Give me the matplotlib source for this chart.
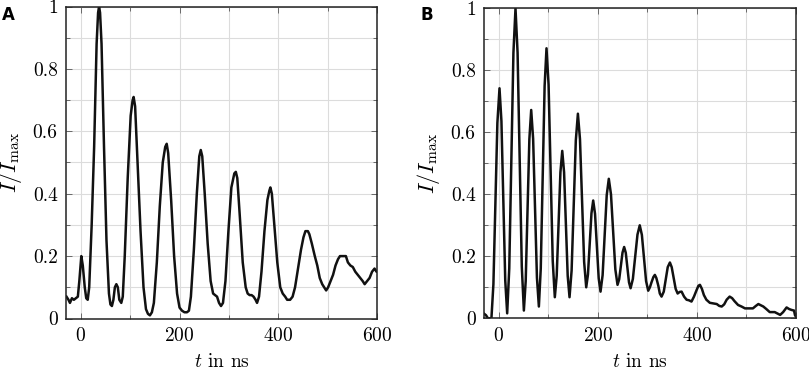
import matplotlib
matplotlib.use("Agg")
import matplotlib.pyplot as plt
from matplotlib.ticker import MultipleLocator

plt.rcParams['font.family'] = 'serif'
plt.rcParams['font.serif'] = ['cmr10']
plt.rcParams['mathtext.fontset'] = 'cm'
plt.rcParams['axes.formatter.use_mathtext'] = True

# Panel A data (t in ns, I/Imax)
t_a = [-29, -25, -22, -18, -14, -10, -6, -3, 1, 4, 8, 11, 14, 17, 22, 27, 32, 35, 37, 39,
       42, 47, 52, 57, 60, 63, 66, 69, 72, 75, 78, 82, 85, 89, 95, 101, 105, 107, 110, 115,
       121, 127, 132, 136, 140, 144, 148, 154, 160, 166, 171, 174, 177, 183, 189, 195, 200,
       205, 210, 215, 219, 223, 229, 235, 240, 243, 246, 251, 257, 263, 268, 272, 276, 280,
       284, 288, 293, 299, 305, 311, 314, 317, 322, 328, 334, 338, 342, 346, 350, 354, 357,
       361, 366, 372, 378, 382, 384, 387, 392, 398, 404, 409, 414, 418, 424, 429, 434, 440,
       446, 451, 455, 460, 463, 468, 474, 479, 484, 489, 493, 497, 501, 506, 511, 516, 521,
       525, 531, 537, 541, 546, 551, 556, 561, 566, 571, 575, 580, 585, 590, 595, 599, 600]
i_a = [0.07, 0.06, 0.05, 0.065, 0.06, 0.065, 0.07, 0.12, 0.20, 0.17, 0.10, 0.065, 0.06, 0.10,
       0.30, 0.55, 0.88, 0.98, 1.00, 0.98, 0.88, 0.55, 0.25, 0.08, 0.045, 0.04, 0.06, 0.10,
       0.11, 0.10, 0.06, 0.05, 0.07, 0.20, 0.45, 0.65, 0.70, 0.71, 0.68, 0.50, 0.28, 0.10,
       0.03, 0.015, 0.01, 0.02, 0.05, 0.18, 0.36, 0.50, 0.55, 0.56, 0.53, 0.38, 0.20, 0.08,
       0.035, 0.025, 0.02, 0.02, 0.025, 0.07, 0.22, 0.40, 0.52, 0.54, 0.52, 0.40, 0.24, 0.12,
       0.08, 0.075, 0.07, 0.05, 0.04, 0.05, 0.12, 0.28, 0.42, 0.465, 0.47, 0.45, 0.33, 0.18,
       0.10, 0.08, 0.075, 0.075, 0.07, 0.06, 0.05, 0.07, 0.15, 0.28, 0.38, 0.41, 0.42, 0.40,
       0.30, 0.18, 0.10, 0.08, 0.07, 0.06, 0.06, 0.07, 0.10, 0.16, 0.22, 0.26, 0.28, 0.28,
       0.27, 0.24, 0.20, 0.17, 0.13, 0.11, 0.10, 0.09, 0.10, 0.12, 0.14, 0.17, 0.19, 0.20,
       0.20, 0.20, 0.18, 0.17, 0.165, 0.15, 0.14, 0.13, 0.12, 0.11, 0.12, 0.13, 0.15, 0.16,
       0.15, 0.15]

# Panel B data
t_b = [-30, -26, -22, -17, -15, -11, -7, -3, 1.3, 5.2, 9.0, 12.9, 16.8, 21.0, 25.2, 29.4, 33.6,
       37.8, 42.0, 46.3, 50.5, 54.2, 57.9, 61.6, 65.3, 69.2, 73.0, 76.9, 80.8, 84.6, 88.5,
       92.4, 96.2, 100.4, 104.6, 108.8, 113, 116.8, 120.5, 124.3, 128, 131.7, 135.4, 139.0,
       142.7, 146.9, 151.2, 155.4, 159.6, 163.8, 168, 172.2, 176.4, 179.9, 183.5, 187, 190.5,
       194.2, 197.9, 201.6, 205.3, 209.5, 213.7, 217.8, 222, 226.4, 230.8, 235.2, 239.6, 243,
       246.3, 249.7, 253, 256.3, 259.5, 262.8, 266, 270.6, 275.3, 279.9, 284.5, 288.8, 293,
       297.3, 301.6, 305, 308, 312, 315, 318, 322, 325, 328.5, 333, 337, 341, 345.4, 349, 353,
       357, 361, 365, 369, 374, 379, 384, 389, 394, 399, 403, 406, 410, 414, 419, 426, 433,
       440, 445, 450, 455, 460, 466, 471, 476, 483, 490, 497, 505, 513, 519, 524, 529, 534,
       540, 547, 557, 563, 568, 574, 581, 586, 591, 596, 598, 600]
i_b = [0.015, 0.01, 0.0, 0.0, 0.0, 0.11, 0.37, 0.63, 0.742, 0.636, 0.379, 0.122, 0.016, 0.161,
       0.508, 0.856, 1.0, 0.857, 0.51, 0.167, 0.025, 0.12, 0.35, 0.578, 0.672, 0.579, 0.355,
       0.131, 0.038, 0.16, 0.455, 0.749, 0.871, 0.754, 0.47, 0.185, 0.068, 0.137, 0.304,
       0.471, 0.54, 0.471, 0.304, 0.137, 0.068, 0.154, 0.364, 0.574, 0.66, 0.578, 0.38, 0.182,
       0.10, 0.141, 0.24, 0.339, 0.38, 0.337, 0.233, 0.129, 0.086, 0.139, 0.268, 0.397, 0.45,
       0.40, 0.279, 0.158, 0.108, 0.126, 0.169, 0.212, 0.23, 0.211, 0.164, 0.116, 0.097,
       0.127, 0.199, 0.27, 0.30, 0.269, 0.195, 0.12, 0.089, 0.10, 0.115, 0.133, 0.14, 0.13,
       0.105, 0.08, 0.07, 0.086, 0.125, 0.165, 0.18, 0.165, 0.13, 0.095, 0.08, 0.085, 0.086,
       0.07, 0.06, 0.058, 0.054, 0.07, 0.09, 0.105, 0.108, 0.095, 0.075, 0.06, 0.05, 0.048,
       0.046, 0.04, 0.038, 0.045, 0.06, 0.07, 0.065, 0.055, 0.043, 0.038, 0.032, 0.032, 0.032,
       0.04, 0.046, 0.042, 0.038, 0.03, 0.02, 0.02, 0.015, 0.011, 0.02, 0.035, 0.03, 0.027,
       0.025, 0.01, 0.005]

x_ticks = [0, 200, 400, 600]
y_ticks = [0, 0.2, 0.4, 0.6, 0.8, 1]
y_ticklabels = ['0', '0.2', '0.4', '0.6', '0.8', '1']
panel_labels = ['A', 'B']

fig = plt.figure(figsize=(8.09, 3.67), dpi=100)
rects = [[66/809, 1-318.5/367, 311/809, 312/367],
         [484/809, 1-318.3/367, 312/809, 310/367]]

for rect, t, v, lab in zip(rects, [t_a, t_b], [i_a, i_b], panel_labels):
    ax = fig.add_axes(rect)
    ax.set_xlim(-30, 600)
    ax.set_ylim(0, 1)
    ax.xaxis.set_major_locator(MultipleLocator(200))
    ax.xaxis.set_minor_locator(MultipleLocator(100))
    ax.yaxis.set_major_locator(MultipleLocator(0.2))
    ax.yaxis.set_minor_locator(MultipleLocator(0.1))
    ax.set_xticks(x_ticks)
    ax.set_yticks(y_ticks)
    ax.set_yticklabels(y_ticklabels)
    ax.grid(True, which='both', color='#dcdcdc', linewidth=0.8)
    ax.set_axisbelow(True)
    ax.tick_params(which='both', direction='in', top=True, right=True,
                   color='#555555', labelsize=14, pad=6)
    ax.tick_params(which='major', length=4, width=0.6)
    ax.tick_params(which='minor', length=3, width=0.6)
    for s in ax.spines.values():
        s.set_linewidth(1.1)
        s.set_color('#222222')
    ax.plot(t, v, color='#111111', linewidth=1.8, solid_joinstyle='round')
    ax.set_xlabel(r'$t$ in ns', fontsize=14, labelpad=6)
    ax.set_ylabel(r'$I/I_{\mathrm{max}}$', fontsize=16)
    ax.yaxis.set_label_coords(-0.134, 0.5)

fig.text(2/809, 1-5.5/367, 'A', fontsize=12, fontweight='bold',
         family='DejaVu Sans', va='top', ha='left')
fig.text(421/809, 1-5.5/367, 'B', fontsize=12, fontweight='bold',
         family='DejaVu Sans', va='top', ha='left')

fig.savefig('out.png', dpi=100)
